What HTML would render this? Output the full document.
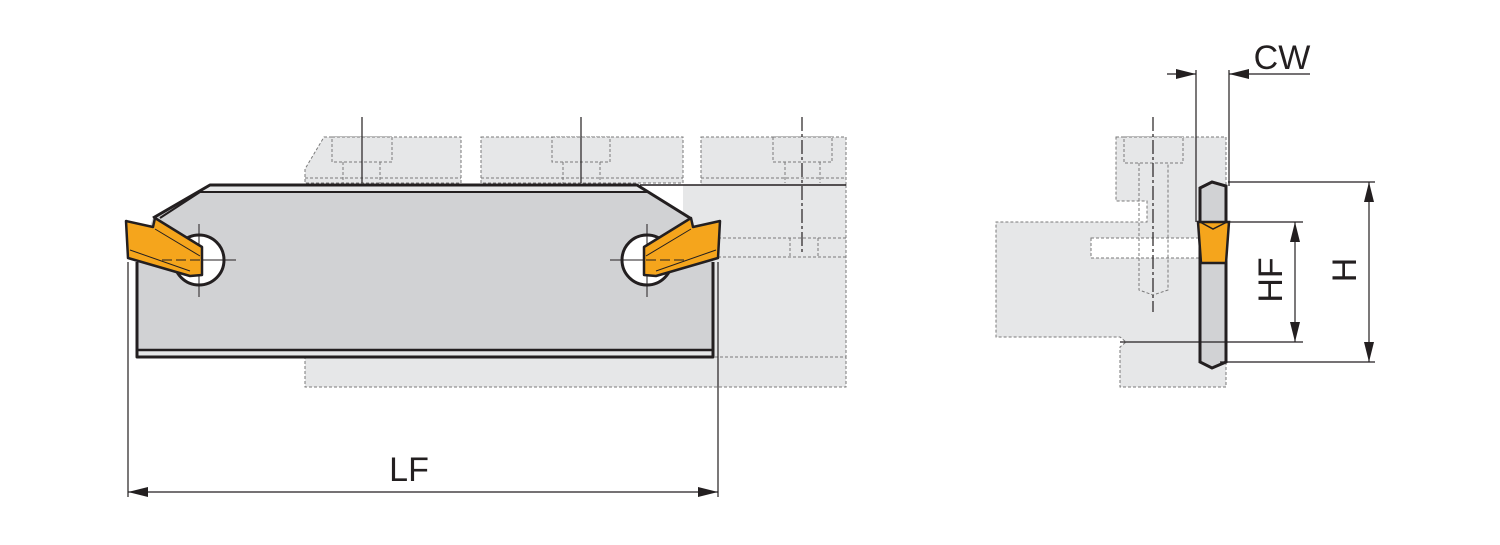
<!DOCTYPE html>
<html><head><meta charset="utf-8"><style>
html,body{margin:0;padding:0;background:#fff;}
svg{display:block;}
text{font-family:"Liberation Sans",Arial,sans-serif;fill:#231f20;}
</style></head><body>
<svg width="1500" height="545" viewBox="0 0 1500 545" xmlns="http://www.w3.org/2000/svg">
<defs>
<marker id="a" viewBox="0 0 20 10" refX="20" refY="5" markerWidth="20" markerHeight="10" markerUnits="userSpaceOnUse" orient="auto-start-reverse"><path d="M0,0 L20,5 L0,10 z" fill="#231f20"/></marker>
</defs>
<g fill="#e6e7e8" stroke="#7a7a7a" stroke-width="1" stroke-dasharray="3,2">
<!-- holder left view -->
<path d="M324,137 H461 V183 H305 V169 Z"/>
<rect x="481" y="137" width="202" height="46"/>
<rect x="701" y="137" width="145" height="48"/>
<rect x="683" y="185" width="163" height="172" stroke="none"/>
<path d="M846,185 V357 M718,238 H846 M718,257 H846 M790,238 V257 M818,238 V257" fill="none"/>
<rect x="305" y="357" width="541" height="30"/>
<path d="M305,178 H461 M481,178 H683 M701,178 H846" fill="none"/>
<rect x="332" y="137" width="60" height="25"/>
<path d="M343,162 V183 M380,162 V183" fill="none"/>
<rect x="552" y="137" width="58" height="25"/>
<path d="M563,162 V183 M600,162 V183" fill="none"/>
<rect x="773" y="137" width="59" height="25"/>
<path d="M785,162 V183 M820,162 V183" fill="none"/>
<!-- holder right view -->
<path d="M1116,137 H1226 V387 H1120 V347 L1126,342 L1120,337 H996 V222 H1147 V201 H1116 Z"/>
<rect x="1091" y="238" width="109" height="20" fill="#fff"/>
<rect x="1124" y="137" width="59" height="26"/>
<path d="M1139,163 V290 L1153,295 L1168,290 V163" fill="none"/>
</g>
<g stroke="#231f20" stroke-width="1.2" fill="none">
<path d="M362,117 V183 M581,117 V183"/>
<path d="M802,117 V252" stroke-dasharray="14,3,3,3"/>
<path d="M1153,117 V312" stroke-dasharray="14,3,3,3"/>
</g>
<!-- blade left view -->
<path d="M640,185 H846" stroke="#231f20" stroke-width="1.5"/>
<path d="M210,185 H637 L690,218 L713,262 V357 H137 V262 L153,218 Z" fill="#d1d2d4"/>
<path d="M210,185 H637 L648,192 H200 Z" fill="#e6e7e8"/>
<path d="M137,350 H713 V357 H137 Z" fill="#e6e7e8"/>
<g stroke="#231f20" stroke-width="3" fill="none" stroke-linejoin="round">
<path d="M153,218 L210,185 H637 L690,218"/>
<path d="M200,192 H648 M160,218 L200,192 M648,192 L690,218" stroke-width="2"/>
<path d="M137,262 V357 H713 V262"/>
<path d="M137,350 H713" stroke-width="2.5"/>
<circle cx="199" cy="260" r="25" fill="#fff"/>
<circle cx="647" cy="260" r="25" fill="#fff"/>
</g>
<g stroke="#231f20" stroke-width="1" fill="none">
<path d="M199,224 V297 M162,260 H236 M647,224 V297 M610,260 H684"/>
</g>
<g fill="#f5a51c" stroke="#231f20" stroke-width="2.5" stroke-linejoin="round">
<path d="M126,221 L153,227 L155,218 L202,247 V275 L190,276 L128,258 Z"/>
<path d="M720,221 L693,227 L691,218 L644,247 V275 L656,276 L718,258 Z"/>
</g>
<g stroke="#231f20" stroke-width="1" fill="none">
<path d="M155,229 L200,256 M130,250 L190,271 M691,229 L646,256 M716,250 L656,271"/>
<path d="M162,260 H200 M646,260 H684" stroke-dasharray="10,4"/>
</g>
<!-- blade right view -->
<path d="M1200,188 L1212,182 L1226,186 V362 L1212,368 L1200,362 Z" fill="#d1d2d4" stroke="#231f20" stroke-width="3"/>
<path d="M1198,222 H1229 L1226,263 H1201 Z" fill="#f5a51c" stroke="#231f20" stroke-width="2.5"/>
<path d="M1200,222 L1213,229 L1227,222" fill="none" stroke="#231f20" stroke-width="1.5"/>
<!-- dimensions -->
<g stroke="#231f20" stroke-width="1.2" fill="none">
<path d="M128,262 V497 M718,262 V497"/>
<path d="M128,492 H718" marker-start="url(#a)" marker-end="url(#a)"/>
<path d="M1196,70 V222 M1229,70 V186"/>
<path d="M1167,74 H1196" marker-end="url(#a)"/>
<path d="M1310,74 H1229" marker-end="url(#a)"/>
<path d="M1228,182 H1375 M1220,362 H1375"/>
<path d="M1369,182 V362" marker-start="url(#a)" marker-end="url(#a)"/>
<path d="M1229,222 H1303 M1120,342 H1303"/>
<path d="M1295,222 V342" marker-start="url(#a)" marker-end="url(#a)"/>
</g>
<text x="409" y="481" font-size="34" text-anchor="middle">LF</text>
<text x="1282" y="69" font-size="34" text-anchor="middle">CW</text>
<text transform="translate(1356,270) rotate(-90)" font-size="34" text-anchor="middle">H</text>
<text transform="translate(1282,280) rotate(-90)" font-size="34" text-anchor="middle">HF</text>
</svg>
</body></html>
